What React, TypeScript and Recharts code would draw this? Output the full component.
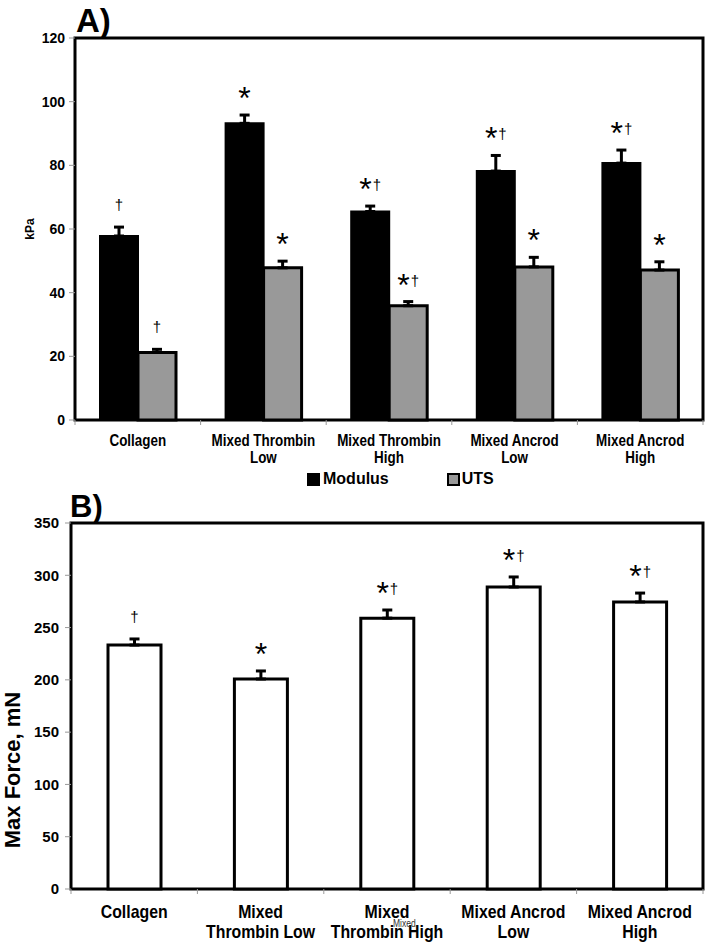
import { Bar, BarChart, ErrorBar, LabelList, ReferenceArea, XAxis, YAxis } from "recharts";

// Panel A: modulus and UTS (kPa)
const groupsA = ["Collagen", "Mixed Thrombin\nLow", "Mixed Thrombin\nHigh", "Mixed Ancrod\nLow", "Mixed Ancrod\nHigh"];
const modulus = [57.8, 93.2, 65.5, 78.2, 80.7];
const modulusErr = [2.8, 2.6, 1.7, 4.9, 4.1];
const uts = [21.2, 47.8, 35.9, 48.1, 47.1];
const utsErr = [1.0, 2.1, 1.3, 3.0, 2.6];
const modulusNotes = ["†", "*", "*†", "*†", "*†"];
const utsNotes = ["†", "*", "*†", "*", "*"];
const ticksA = [0, 20, 40, 60, 80, 100, 120];

// Panel B: max force (mN)
const groupsB = ["Collagen", "Mixed\nThrombin Low", "Mixed\nThrombin High", "Mixed Ancrod\nLow", "Mixed Ancrod\nHigh"];
const maxForce = [233.3, 200.8, 259, 288.8, 274.5];
const maxForceErr = [5.8, 7.7, 7.8, 9.6, 8.5];
const forceNotes = ["†", "*", "*†", "*†", "*†"];
const ticksB = [0, 50, 100, 150, 200, 250, 300, 350];

const dataA = groupsA.map((name, i) => ({
  name,
  modulus: modulus[i],
  modulusErr: [0, modulusErr[i]],
  modulusNote: modulusNotes[i],
  uts: uts[i],
  utsErr: [0, utsErr[i]],
  utsNote: utsNotes[i],
}));

const dataB = groupsB.map((name, i) => ({
  name,
  force: maxForce[i],
  forceErr: [0, maxForceErr[i]],
  forceNote: forceNotes[i],
}));

const SANS = "'Liberation Sans', Arial, Helvetica, sans-serif";

const W = 716;
const PLOT_A_W = W - 75 - 13;
const PLOT_B_W = W - 71 - 13;

// narrow bold look: Arial squeezed horizontally
const squeeze = (x: number, k: number) => `translate(${x},0) scale(${k},1) translate(${-x},0)`;

function makeCategoryTick(plotW: number, count: number, fontSize: number, k: number, firstDy: number, lineH: number) {
  return (props: any) => {
    const { x, y, payload, index } = props;
    const band = plotW / count;
    const lines = String(payload.value).split("\n");
    return (
      <g>
        <line x1={x - band / 2} x2={x - band / 2} y1={y} y2={y + 5} stroke="#999" strokeWidth={1} />
        {index === count - 1 && (
          <line x1={x + band / 2} x2={x + band / 2} y1={y} y2={y + 5} stroke="#999" strokeWidth={1} />
        )}
        <text
          x={x}
          y={y + firstDy}
          transform={squeeze(x, k)}
          textAnchor="middle"
          fontFamily={SANS}
          fontWeight="bold"
          fontSize={fontSize}
          fill="#000"
        >
          {lines.map((l, i) => (
            <tspan key={i} x={x} dy={i === 0 ? 0 : lineH}>
              {l}
            </tspan>
          ))}
        </text>
      </g>
    );
  };
}

// star / dagger marks, placed above the error bar top
function makeNote(values: number[], errs: number[]) {
  return (props: any) => {
    const { x, y, width, height, index, value } = props;
    if (!value) return null;
    const perUnit = Number(height) / values[index];
    const top = Number(y) - errs[index] * perUnit;
    const c = top - 21;
    const parts = String(value).split("");
    return (
      <text x={Number(x) + Number(width) / 2} y={c} textAnchor="middle" fontFamily={SANS} fill="#000">
        {parts.map((p, k) =>
          p === "*" ? (
            <tspan key={k} fontSize={32} dy={15}>
              *
            </tspan>
          ) : (
            <tspan key={k} fontSize={15} dx={k === 0 ? 0 : 1} dy={k === 0 ? 4 : -10}>
              †
            </tspan>
          )
        )}
      </text>
    );
  };
}

export default function App() {
  return (
    <div style={{ position: "absolute", left: 0, top: 0, width: W, height: 948, background: "#fff", fontFamily: SANS }}>
      <div style={{ position: "absolute", left: 76, top: 4, fontSize: 33, lineHeight: 1, fontWeight: "bold" }}>A)</div>
      <div style={{ position: "absolute", left: 0, top: 0 }}>
        <BarChart width={W} height={470} data={dataA} margin={{ top: 38, right: 13, left: 0, bottom: 0 }} barGap={0} barCategoryGap="20%">
          <XAxis
            dataKey="name"
            height={50}
            axisLine={false}
            tickLine={false}
            tickSize={0}
            tickMargin={0}
            interval={0}
            tick={makeCategoryTick(PLOT_A_W, groupsA.length, 16, 0.84, 26, 17)}
          />
          <YAxis
            width={75}
            domain={[0, 120]}
            ticks={ticksA}
            axisLine={false}
            tickSize={6}
            tickMargin={4}
            tickLine={{ stroke: "#999" }}
            tick={{ fontFamily: SANS, fontWeight: "bold", fontSize: 14, fill: "#000" }}
            label={{
              content: ({ viewBox }: any) => (
                <text
                  x={34}
                  y={viewBox.y + viewBox.height / 2}
                  transform={`rotate(-90 34 ${viewBox.y + viewBox.height / 2})`}
                  textAnchor="middle"
                  fontFamily={SANS}
                  fontWeight="bold"
                  fontSize={12}
                  fill="#000"
                >
                  kPa
                </text>
              ),
            }}
          />
          <Bar dataKey="modulus" fill="#000" stroke="#000" strokeWidth={2} barSize={38} isAnimationActive={false}>
            <ErrorBar dataKey="modulusErr" direction="y" width={5} stroke="#000" strokeWidth={3} />
            <LabelList dataKey="modulusNote" content={makeNote(modulus, modulusErr)} />
          </Bar>
          <Bar dataKey="uts" fill="#999999" stroke="#000" strokeWidth={3} barSize={38} isAnimationActive={false}>
            <ErrorBar dataKey="utsErr" direction="y" width={5} stroke="#000" strokeWidth={3} />
            <LabelList dataKey="utsNote" content={makeNote(uts, utsErr)} />
          </Bar>
          <ReferenceArea y1={0} y2={120} fill="none" stroke="#000" strokeWidth={3} />
        </BarChart>
      </div>
      <div style={{ position: "absolute", left: 307, top: 470, display: "flex", alignItems: "center", fontSize: 16, fontWeight: "bold" }}>
        <span style={{ width: 13, height: 13, background: "#000", display: "inline-block", marginRight: 3 }} />
        <span>Modulus</span>
        <span style={{ width: 9, height: 9, background: "#999", border: "2px solid #000", display: "inline-block", marginLeft: 58, marginRight: 2 }} />
        <span>UTS</span>
      </div>

      <div style={{ position: "absolute", left: 70, top: 491, fontSize: 31, lineHeight: 1, fontWeight: "bold" }}>B)</div>
      <div style={{ position: "absolute", left: 0, top: 470 }}>
        <BarChart width={W} height={478} data={dataB} margin={{ top: 53, right: 13, left: 0, bottom: 0 }} barCategoryGap="29%">
          <XAxis
            dataKey="name"
            height={59}
            axisLine={false}
            tickLine={false}
            tickSize={0}
            tickMargin={0}
            interval={0}
            tick={makeCategoryTick(PLOT_B_W, groupsB.length, 18, 0.88, 29, 20)}
          />
          <YAxis
            width={71}
            domain={[0, 350]}
            ticks={ticksB}
            axisLine={false}
            tickSize={6}
            tickMargin={6}
            tickLine={{ stroke: "#999" }}
            tick={{ fontFamily: SANS, fontWeight: "bold", fontSize: 15, fill: "#000" }}
            label={{
              content: () => (
                <text
                  x={20}
                  y={300}
                  transform="rotate(-90 20 300)"
                  textAnchor="middle"
                  fontFamily={SANS}
                  fontWeight="bold"
                  fontSize={22}
                  fill="#000"
                >
                  Max Force, mN
                </text>
              ),
            }}
          />
          <Bar dataKey="force" fill="#fff" stroke="#000" strokeWidth={3} barSize={53} isAnimationActive={false}>
            <ErrorBar dataKey="forceErr" direction="y" width={5} stroke="#000" strokeWidth={3} />
            <LabelList dataKey="forceNote" content={makeNote(maxForce, maxForceErr)} />
          </Bar>
          <ReferenceArea y1={0} y2={350} fill="none" stroke="#000" strokeWidth={3} />
        </BarChart>
      </div>
      <div style={{ position: "absolute", left: 393, top: 918, fontSize: 10, color: "#333", transform: "scaleX(0.85)", transformOrigin: "left" }}>
        Mixed
      </div>
    </div>
  );
}
